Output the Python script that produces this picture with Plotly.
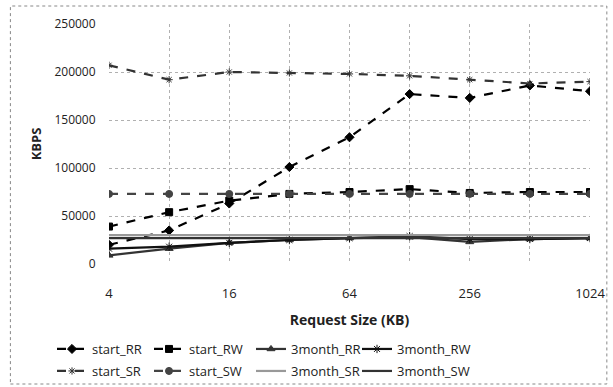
import plotly.graph_objects as go

sizes = [4, 8, 16, 32, 64, 128, 256, 512, 1024]
start_RR = [20000, 35000, 63000, 101000, 132000, 177000, 173000, 186000, 180000]
start_RW = [39000, 54000, 66000, 73000, 75000, 78000, 74000, 75000, 75000]
month3_RR = [9000, 16000, 22000, 25000, 27000, 28000, 23000, 26000, 27000]
month3_RW = [16000, 18000, 22000, 25000, 27000, 29000, 26000, 26000, 27000]
start_SR = [207000, 192000, 200000, 199000, 198000, 196000, 192000, 188000, 190000]
start_SW = [73000, 73000, 73000, 73000, 73000, 73000, 73000, 73000, 73000]
month3_SR = [30000, 30000, 30000, 30000, 30000, 30000, 30000, 30000, 30000]
month3_SW = [27000, 27000, 27000, 27000, 27000, 27000, 27000, 27000, 27000]

x_ticks = [4, 16, 64, 256, 1024]
x_minor = [8, 32, 128, 512]
y_ticks = [0, 50000, 100000, 150000, 200000, 250000]

series = [
    ("start_RR", start_RR, "#000000", "dash", "diamond", 7),
    ("start_RW", start_RW, "#000000", "dash", "square", 7),
    ("3month_RR", month3_RR, "#333333", "solid", "triangle-up", 7),
    ("3month_RW", month3_RW, "#111111", "solid", "asterisk-open", 7),
    ("start_SR", start_SR, "#333333", "dash", "asterisk-open", 6),
    ("start_SW", start_SW, "#444444", "dash", "circle-cross", 7),
    ("3month_SR", month3_SR, "#999999", "solid", "line-ew", 1),
    ("3month_SW", month3_SW, "#333333", "solid", "line-ew", 1),
]

# legend grid: 4 columns x 2 rows (pixel anchors of each entry)
leg_cols = [52, 149, 251, 357]
leg_rows = [334, 356]

fig = go.Figure()
legends = {}
for i, (name, vals, color, dash, sym, ms) in enumerate(series):
    lid = "legend" if i == 0 else f"legend{i + 1}"
    fig.add_trace(go.Scatter(
        x=sizes, y=vals, name=name, mode="lines+markers", legend=lid,
        line=dict(color=color, width=2.2, dash=dash),
        marker=dict(symbol=sym, size=ms, color=color,
                    line=dict(color=color, width=1)),
    ))
    legends[lid] = dict(orientation="h", xref="container", yref="container",
                        xanchor="left", yanchor="top",
                        x=leg_cols[i % 4] / 613, y=1 - leg_rows[i // 4] / 387,
                        font=dict(size=13, color="#222222"), itemwidth=30,
                        bgcolor="rgba(0,0,0,0)")

font = "Open Sans, Lato, sans-serif"
fig.update_layout(
    width=613, height=387,
    margin=dict(l=109, r=23, t=24, b=123, autoexpand=False),
    paper_bgcolor="white", plot_bgcolor="white",
    font=dict(family=font, size=12, color="#222222"),
    showlegend=True,
    xaxis=dict(type="log", range=[0.602, 3.0103], tickvals=x_ticks,
               ticktext=[str(v) for v in x_ticks],
               showgrid=True, gridcolor="#b0b0b0", griddash="dot", gridwidth=1,
               minor=dict(tickvals=x_minor, showgrid=True, gridcolor="#b0b0b0",
                          griddash="dot", gridwidth=1, ticklen=0),
               zeroline=False, showline=False, ticks="outside", ticklen=17,
               tickcolor="rgba(0,0,0,0)",
               title=dict(text="<b>Request Size (KB)</b>", standoff=14,
                          font=dict(size=14, color="#222222")),
               tickfont=dict(size=13)),
    yaxis=dict(range=[0, 250000], tickvals=y_ticks,
               ticktext=[str(v) for v in y_ticks],
               showgrid=True, gridcolor="#b0b0b0", griddash="dot", gridwidth=1,
               zeroline=False, showline=False, ticks="outside", ticklen=10,
               tickcolor="rgba(0,0,0,0)",
               title=dict(text="<b>KBPS</b>", standoff=9,
                          font=dict(size=13, color="#222222")),
               tickfont=dict(size=12)),
    **legends,
)

fig.add_shape(type="rect", xref="paper", yref="paper",
              x0=-0.205, x1=1.035, y0=-0.5, y1=1.075,
              line=dict(color="#888888", width=1, dash="dot"))

fig.write_html("out.html", config={"displayModeBar": False},
               post_script="document.body.style.margin='0';document.body.style.padding='0';")
